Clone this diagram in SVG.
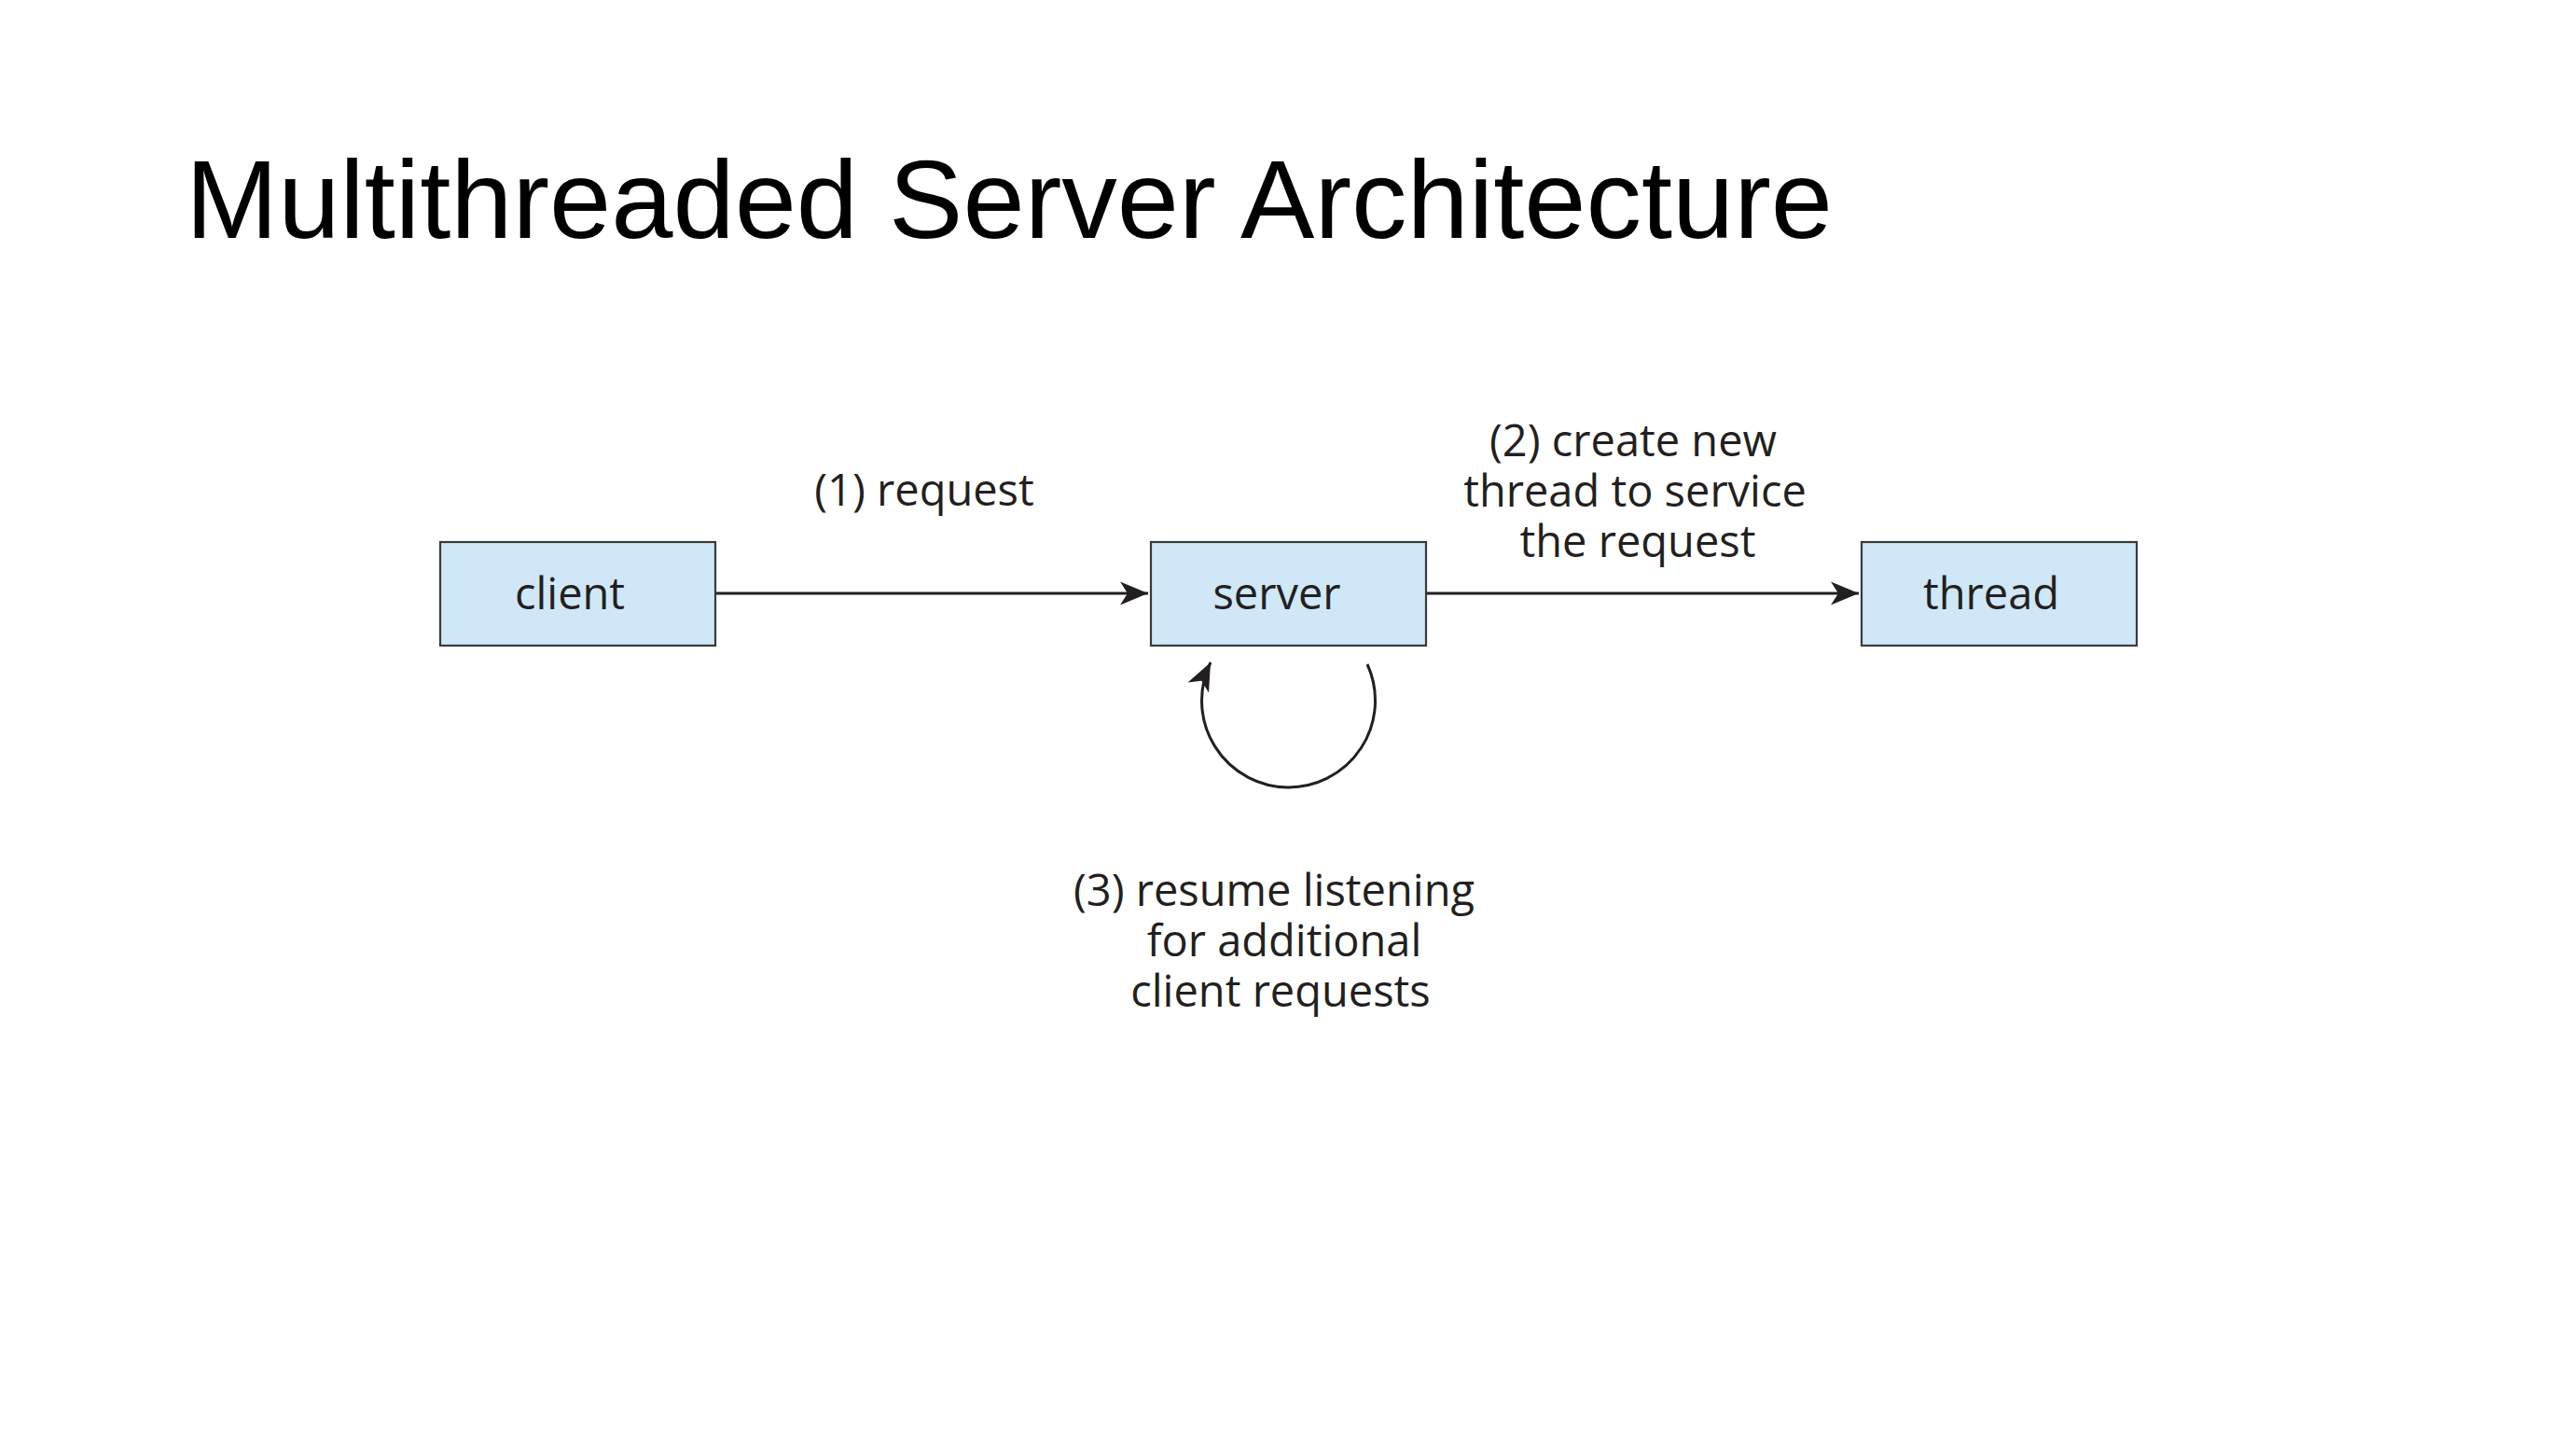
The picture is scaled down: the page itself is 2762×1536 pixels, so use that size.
<svg xmlns="http://www.w3.org/2000/svg" width="2762" height="1536" viewBox="0 0 2762 1536">
<style>
.node rect{fill:#cfe7f7;stroke:#3a3a3a;stroke-width:2.2}
.lbl{font-family:"Open Sans","Noto Sans",sans-serif;font-size:47px;fill:#231f20;text-anchor:middle}
.conn{fill:none;stroke:#231f20;stroke-width:3}
.title{font-family:"Liberation Sans",Arial,sans-serif;font-size:119px;fill:#000}
</style>
<defs>
<marker id="arr" viewBox="-32 -14 34 28" refX="0" refY="0" markerWidth="34" markerHeight="28" markerUnits="userSpaceOnUse" orient="auto">
<path d="M0,0 L-30,-12.5 L-22,0 L-30,12.5 Z" fill="#231f20"/>
</marker>
</defs>
<rect width="2762" height="1536" fill="#fff"/>
<text class="title" x="199" y="255">Multithreaded Server Architecture</text>
<g id="connectors">
<path class="conn" d="M767,636 L1231,636" marker-end="url(#arr)"/>
<path class="conn" d="M1529,636 L1993,636" marker-end="url(#arr)"/>
<path class="conn" d="M1466,712 A93,93 0 1 1 1298,710" marker-end="url(#arr)"/>
</g>
<g id="client" class="node">
<rect x="472" y="581" width="295" height="111"/>
<text class="lbl" x="611" y="653">client</text>
</g>
<g id="server" class="node">
<rect x="1234" y="581" width="295" height="111"/>
<text class="lbl" x="1369" y="653">server</text>
</g>
<g id="thread" class="node">
<rect x="1996" y="581" width="295" height="111"/>
<text class="lbl" x="2135" y="653">thread</text>
</g>
<g id="labels">
<text class="lbl" x="991" y="542">(1) request</text>
<text class="lbl" x="1751" y="489">(2) create new</text>
<text class="lbl" x="1753" y="543">thread to service</text>
<text class="lbl" x="1756" y="597">the request</text>
<text class="lbl" x="1366" y="971">(3) resume listening</text>
<text class="lbl" x="1377" y="1025">for additional</text>
<text class="lbl" x="1373" y="1079">client requests</text>
</g>
</svg>
